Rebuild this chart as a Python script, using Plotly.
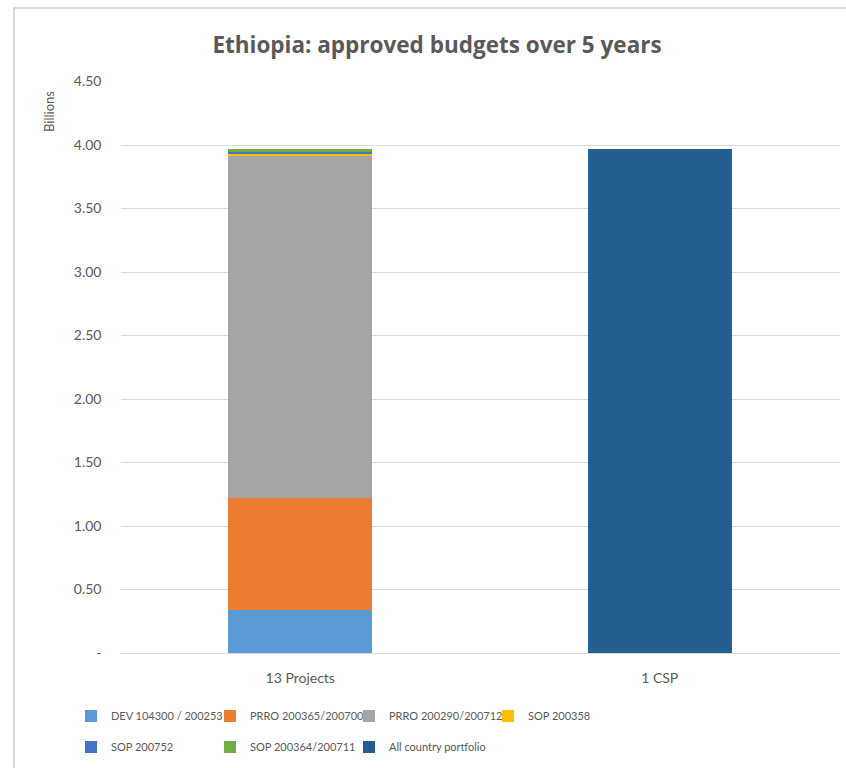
import plotly.graph_objects as go

categories = ["13 Projects", "1 CSP"]
series_names = ["DEV 104300 / 200253", "PRRO 200365/200700", "PRRO 200290/200712",
                "SOP 200358", "SOP 200752", "SOP 200364/200711", "All country portfolio"]
series_values = [
    [0.34, 0],
    [0.88, 0],
    [2.69, 0],
    [0.03, 0],
    [0.002, 0],
    [0.03, 0],
    [0, 3.97],
]
series_colors = ["#5B9BD5", "#ED7D31", "#A5A5A5", "#FFC000", "#4472C4", "#70AD47", "#255E91"]
legend_rows = ["legend", "legend", "legend", "legend", "legend2", "legend2", "legend2"]
tick_vals = [0, 0.5, 1.0, 1.5, 2.0, 2.5, 3.0, 3.5, 4.0, 4.5]
tick_text = ["-", "0.50", "1.00", "1.50", "2.00", "2.50", "3.00", "3.50", "4.00", "4.50"]

W, H = 846, 768
FONT = "Lato, Open Sans, sans-serif"
GRAY = "#595959"

fig = go.Figure()
for name, vals, col, lg in zip(series_names, series_values, series_colors, legend_rows):
    fig.add_trace(go.Bar(x=categories, y=vals, name=name, marker_color=col,
                         marker_line_width=0, legend=lg, hoverinfo="name+y"))

leg_common = dict(orientation="h", xanchor="left", yanchor="middle", x=71 / W,
                  font=dict(family=FONT, size=11, color=GRAY), entrywidth=94,
                  entrywidthmode="pixels", bgcolor="rgba(0,0,0,0)", traceorder="normal")

fig.update_layout(
    width=W, height=H,
    margin=dict(l=0, r=0, t=0, b=0, autoexpand=False),
    paper_bgcolor="white", plot_bgcolor="white",
    barmode="stack", bargap=0.6,
    font=dict(family=FONT, color=GRAY),
    title=dict(text="<b>Ethiopia: approved budgets over 5 years</b>", x=437 / W, xanchor="center",
               y=1 - 45 / H, yanchor="middle", yref="paper",
               font=dict(family="Open Sans, Lato, sans-serif", size=22.5, color=GRAY)),
    xaxis=dict(domain=[120.5 / W, 839.5 / W], showgrid=False, showline=True, linecolor="#D9D9D9",
               linewidth=1, ticks="", ticklabelstandoff=12,
               tickfont=dict(family=FONT, size=14, color=GRAY)),
    yaxis=dict(domain=[(H - 653) / H, (H - 81.5) / H], range=[0, 4.5], tickvals=tick_vals,
               ticktext=tick_text, showgrid=True, gridcolor="#D9D9D9", gridwidth=1,
               zeroline=False, showline=False, ticks="", ticklabelstandoff=18,
               tickfont=dict(family=FONT, size=14, color=GRAY)),
    legend=dict(y=1 - 716 / H, **leg_common),
    legend2=dict(y=1 - 747 / H, **leg_common),
    showlegend=True,
    annotations=[dict(text="Billions", textangle=-90, x=49 / W, y=1 - 112 / H, xref="paper",
                      yref="paper", xanchor="center", yanchor="middle", showarrow=False,
                      font=dict(family=FONT, size=13, color=GRAY))],
    shapes=[dict(type="rect", xref="paper", yref="paper", x0=14 / W, x1=1.05, y0=-0.05,
                 y1=1 - 8 / H, line=dict(color="#D9D9D9", width=2), fillcolor="rgba(0,0,0,0)",
                 layer="below")],
)

fig.write_html("out.html")
